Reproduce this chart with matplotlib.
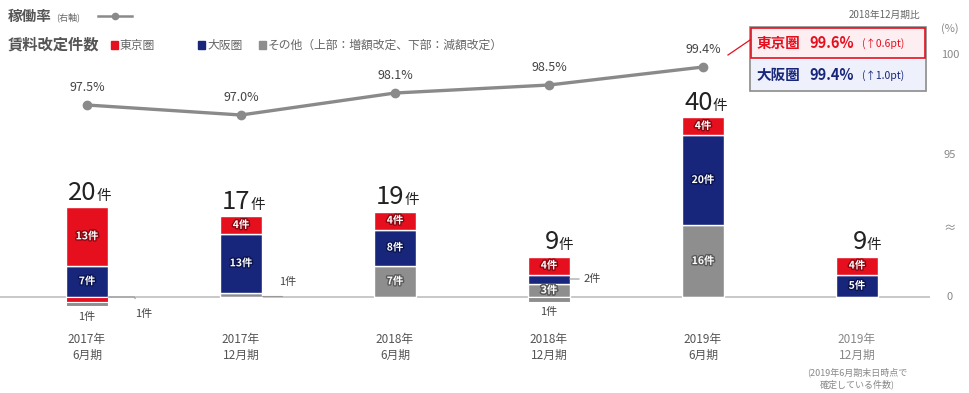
import matplotlib
matplotlib.use("Agg")
import matplotlib.pyplot as plt
import matplotlib.transforms as mtransforms
import matplotlib.patheffects as pe
from matplotlib.patches import Rectangle
import numpy as np

plt.rcParams['font.family'] = ['Noto Sans CJK JP', 'DejaVu Sans']

# ---- data ----
periods = ["2017年\n6月期", "2017年\n12月期", "2018年\n6月期", "2018年\n12月期", "2019年\n6月期", "2019年\n12月期"]
period_note = "(2019年6月期末日時点で\n確定している件数)"
other_up = [0, 1, 7, 3, 16, 0]
osaka_up = [7, 13, 8, 2, 20, 5]
tokyo_up = [13, 4, 4, 4, 4, 4]
tokyo_down = [1, 0, 0, 0, 0, 0]
other_down = [1, 0, 0, 1, 0, 0]
totals = [20, 17, 19, 9, 40, 9]
occupancy = [97.5, 97.0, 98.1, 98.5, 99.4]
rate_tokyo, diff_tokyo = 99.6, 0.6
rate_osaka, diff_osaka = 99.4, 1.0
compare_note = "2018年12月期比"

RED = "#e50f1e"
NAVY = "#17267a"
GRAY = "#8e8e8e"
LINE = "#8a8a8a"
TXT = "#444444"

fig = plt.figure(figsize=(9.7, 3.93), dpi=100)
ax = fig.add_axes([0.0, 0.1603, 930 / 970, 0.7379])
ax2 = ax.twinx()
ov = fig.add_axes([0, 0, 1, 1], zorder=10)
ov.set_xlim(0, 970)
ov.set_ylim(393, 0)
ov.axis("off")
ov.patch.set_alpha(0)

x = np.arange(len(periods))
w = 0.27
ax.set_xlim(-0.565, 5.474)
ax.set_ylim(-7.333, 57.11)
ax2.set_ylim(86.25, 100.75)
for a in (ax, ax2):
    a.set_xticks([])
    a.set_yticks([])
    for s in a.spines.values():
        s.set_visible(False)
ax.patch.set_alpha(0)

ax.axhline(0, color="#c4c4c4", lw=1.3, zorder=1)

# stacked increases (other at base, then Osaka, then Tokyo)
b0 = np.zeros(len(x))
segs = [(other_up, GRAY, "#5a5a5a"), (osaka_up, NAVY, "#0b1450"), (tokyo_up, RED, "#8a0610")]
for vals, col, dark in segs:
    vals = np.array(vals, dtype=float)
    ax.bar(x, vals, w, bottom=b0, color=col, edgecolor="white", linewidth=1.0, zorder=3)
    for i, v in enumerate(vals):
        if v >= 3:
            ax.text(x[i], b0[i] + v / 2, f"{int(v)}件", ha="center", va="center",
                    fontsize=7.5, fontweight="bold", color="white", zorder=5,
                    path_effects=[pe.withStroke(linewidth=2, foreground=dark)])
    b0 = b0 + vals

# decreases drawn below the baseline
bn = np.zeros(len(x))
for vals, col in [(tokyo_down, RED), (other_down, GRAY)]:
    vals = np.array(vals, dtype=float)
    ax.bar(x, -vals, w, bottom=bn, color=col, edgecolor="white", linewidth=0.8, zorder=3)
    bn = bn - vals

# total labels
for i, t in enumerate(totals):
    top = b0[i]
    ax.annotate(str(t), (x[i], top), xytext=(7, 1), textcoords="offset points",
                ha="right", va="bottom", fontsize=18.5, color="#222222", zorder=6)
    ax.annotate("件", (x[i], top), xytext=(7, 3), textcoords="offset points",
                ha="left", va="bottom", fontsize=10.5, color="#222222", zorder=6)

# small count call-outs
lead = dict(arrowstyle="-", color="#999999", lw=0.8, shrinkA=1, shrinkB=0)
ax.annotate(f"{tokyo_down[0]}件", (x[0], bn[0]), xytext=(0, -4), textcoords="offset points",
            ha="center", va="top", fontsize=8, color=TXT)
ax.annotate(f"{other_down[0]}件", (x[0] + w / 2, 0), xytext=(26, -12), textcoords="offset points",
            ha="center", va="center", fontsize=8, color=TXT,
            arrowprops=dict(lead, connectionstyle="angle,angleA=-60,angleB=0,rad=0", shrinkA=6))
ax.annotate(f"{other_up[1]}件", (x[1] + w / 2, 0.3), xytext=(19, 10), textcoords="offset points",
            ha="center", va="center", fontsize=8, color=TXT,
            arrowprops=dict(lead, connectionstyle="angle,angleA=90,angleB=0,rad=0", shrinkA=6))
ax.annotate(f"{osaka_up[3]}件", (x[3] + w / 2, other_up[3] + osaka_up[3] / 2), xytext=(16, 0),
            textcoords="offset points", ha="center", va="center", fontsize=8, color=TXT,
            arrowprops=lead)
ax.annotate(f"{other_down[3]}件", (x[3], bn[3]), xytext=(0, -4), textcoords="offset points",
            ha="center", va="top", fontsize=8, color=TXT)
ax.text(x[3], other_up[3] / 2, f"{other_up[3]}件", ha="center", va="center",
        fontsize=7.5, fontweight="bold", color="white", zorder=6,
        path_effects=[pe.withStroke(linewidth=2, foreground="#5a5a5a")])

# occupancy line
xl = x[:len(occupancy)]
ax2.plot(xl, occupancy, color=LINE, lw=2.4, marker="o", ms=6, zorder=4)
for xi, v in zip(xl, occupancy):
    ax2.annotate(f"{v:.1f}%", (xi, v), xytext=(0, 8), textcoords="offset points",
                 ha="center", va="bottom", fontsize=9, color=TXT)

# right axis labels
tr2 = mtransforms.blended_transform_factory(ax.transAxes, ax2.transData)
tr1 = mtransforms.blended_transform_factory(ax.transAxes, ax.transData)
xr = 950 / 930
for v in (100, 95):
    ax2.text(xr, v, str(v), transform=tr2, ha="center", va="center", fontsize=8, color="#888888")
ax2.text(xr, 101.3, "(%)", transform=tr2, ha="center", va="center", fontsize=8, color="#888888")
ax.text(xr, 15.3, "≈", transform=tr1, ha="center", va="center", fontsize=9, color="#888888")
ax.text(xr, 0, "0", transform=tr1, ha="center", va="center", fontsize=8, color="#888888")

# x category labels
trx = mtransforms.blended_transform_factory(ax.transData, ov.transData)
for i, lab in enumerate(periods):
    c = "#555555" if i < len(periods) - 1 else "#888888"
    ax.text(x[i], 333, lab, transform=trx, ha="center", va="top", fontsize=8.5,
            color=c, linespacing=1.3)
ax.text(x[-1], 367, period_note, transform=trx, ha="center", va="top", fontsize=6.5,
        color="#888888", linespacing=1.3)

# legend
ov.text(8, 16, "稼働率", fontsize=10.5, fontweight="bold", color="#555555", va="center")
ov.text(56, 17, "(右軸)", fontsize=6.5, color="#666666", va="center")
ov.plot([98, 132], [16, 16], color=LINE, lw=1.8)
ov.plot([115], [16], marker="o", ms=4.5, color=LINE)
ov.text(8, 45, "賃料改定件数", fontsize=11, fontweight="bold", color="#555555", va="center")
legend_items = [(111, RED, "東京圏"), (198, NAVY, "大阪圏"), (259, GRAY, "その他（上部：増額改定、下部：減額改定）")]
for lx, col, lab in legend_items:
    ov.add_patch(Rectangle((lx, 41), 7, 8, color=col))
    ov.text(lx + 9, 45.5, lab, fontsize=8.5, color="#666666", va="center")

# comparison box
ov.text(885, 15, compare_note, fontsize=7, color="#666666", ha="center", va="center")
ov.add_patch(Rectangle((750, 27), 176, 64, facecolor="white", edgecolor="#8a8a8a", lw=1.2))
ov.add_patch(Rectangle((751, 28), 174, 30, facecolor="#fdeef1", edgecolor=RED, lw=1.2))
ov.add_patch(Rectangle((751, 60), 174, 30, facecolor="#eef0fb", edgecolor="none"))
ov.text(757, 43, "東京圏", fontsize=10.5, fontweight="bold", color=RED, va="center")
ov.text(809, 43, f"{rate_tokyo:.1f}%", fontsize=10.5, fontweight="bold", color=RED, va="center")
ov.text(862, 44, f"(↑{diff_tokyo:.1f}pt)", fontsize=7.5, color=RED, va="center")
ov.text(757, 75, "大阪圏", fontsize=10.5, fontweight="bold", color=NAVY, va="center")
ov.text(809, 75, f"{rate_osaka:.1f}%", fontsize=10.5, fontweight="bold", color=NAVY, va="center")
ov.text(862, 76, f"(↑{diff_osaka:.1f}pt)", fontsize=7.5, color=NAVY, va="center")
ov.plot([728, 750], [55, 40], color=RED, lw=0.9)

fig.savefig("out.png", dpi=100, facecolor="white")
